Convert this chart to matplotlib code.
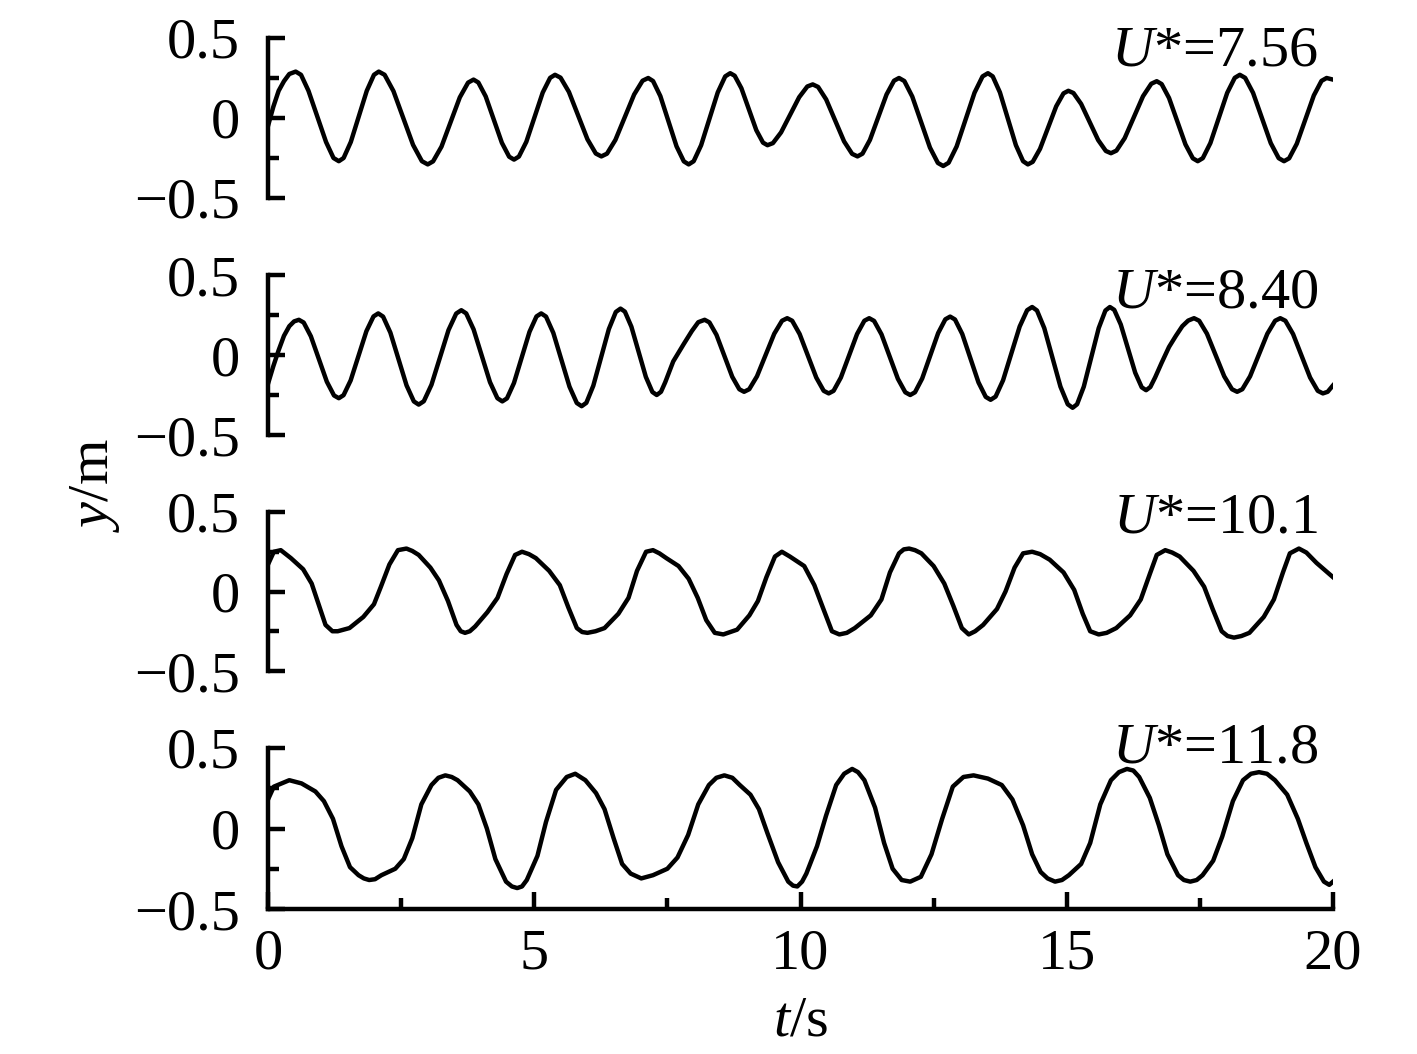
import matplotlib
matplotlib.use('Agg')
import matplotlib.pyplot as plt
from matplotlib.ticker import MultipleLocator, FuncFormatter

# values (t in s, y in m)
t1 = [0, 0.10, 0.20, 0.30, 0.40, 0.52,
      0.62, 0.76, 0.925, 1.09, 1.23, 1.33,
      1.42, 1.555, 1.705, 1.855, 1.99, 2.08,
      2.19, 2.356, 2.54, 2.724, 2.89, 3.0,
      3.10, 3.258, 3.43, 3.602, 3.757, 3.86,
      3.95, 4.088, 4.24, 4.392, 4.529, 4.62,
      4.712, 4.851, 5.005, 5.159, 5.298, 5.39,
      5.494, 5.651, 5.825, 5.999, 6.156, 6.26,
      6.366, 6.524, 6.70, 6.876, 7.034, 7.14,
      7.231, 7.368, 7.52, 7.672, 7.809, 7.90,
      7.994, 8.134, 8.29, 8.446, 8.586, 8.68,
      8.764, 8.89, 9.03, 9.17, 9.296, 9.38,
      9.482, 9.635, 9.805, 9.975, 10.128, 10.23,
      10.331, 10.482, 10.65, 10.818, 10.969, 11.07,
      11.164, 11.304, 11.46, 11.616, 11.756, 11.85,
      11.95, 12.099, 12.265, 12.431, 12.58, 12.68,
      12.781, 12.932, 13.10, 13.268, 13.419, 13.52,
      13.61, 13.745, 13.895, 14.045, 14.18, 14.27,
      14.361, 14.498, 14.65, 14.802, 14.939, 15.03,
      15.126, 15.27, 15.43, 15.59, 15.734, 15.83,
      15.933, 16.088, 16.26, 16.432, 16.587, 16.69,
      16.782, 16.921, 17.075, 17.229, 17.368, 17.46,
      17.555, 17.697, 17.855, 18.013, 18.155, 18.25,
      18.35, 18.499, 18.665, 18.831, 18.98, 19.08,
      19.176, 19.32, 19.48, 19.64, 19.784, 19.88,
      20.0]
y1 = [-0.05, 0.07, 0.17, 0.23, 0.275, 0.29,
      0.27, 0.17, 0.01, -0.15, -0.25, -0.27,
      -0.25, -0.15, 0.01, 0.17, 0.27, 0.29,
      0.27, 0.168, 0.0, -0.168, -0.27, -0.29,
      -0.271, -0.179, -0.025, 0.129, 0.221, 0.24,
      0.222, 0.135, -0.01, -0.155, -0.242, -0.26,
      -0.241, -0.149, 0.005, 0.159, 0.251, 0.27,
      0.252, 0.163, 0.015, -0.133, -0.222, -0.24,
      -0.223, -0.137, 0.005, 0.147, 0.233, 0.25,
      0.231, 0.137, -0.02, -0.177, -0.271, -0.29,
      -0.27, -0.17, -0.005, 0.16, 0.26, 0.28,
      0.264, 0.186, 0.055, -0.076, -0.154, -0.17,
      -0.157, -0.09, 0.02, 0.13, 0.197, 0.21,
      0.194, 0.116, -0.015, -0.146, -0.224, -0.24,
      -0.223, -0.137, 0.005, 0.147, 0.233, 0.25,
      0.231, 0.134, -0.025, -0.185, -0.281, -0.30,
      -0.28, -0.178, -0.01, 0.158, 0.26, 0.28,
      0.26, 0.16, -0.005, -0.17, -0.27, -0.29,
      -0.274, -0.193, -0.06, 0.073, 0.154, 0.17,
      0.156, 0.088, -0.025, -0.138, -0.206, -0.22,
      -0.204, -0.126, 0.005, 0.136, 0.214, 0.23,
      0.212, 0.125, -0.02, -0.165, -0.252, -0.27,
      -0.251, -0.157, 0.0, 0.157, 0.251, 0.27,
      0.251, 0.157, 0.0, -0.157, -0.251, -0.27,
      -0.252, -0.161, -0.01, 0.141, 0.232, 0.25,
      0.24]

t2 = [0, 0.10, 0.20, 0.30, 0.40, 0.49, 0.58,
      0.67, 0.805, 0.955, 1.105, 1.24, 1.33,
      1.419, 1.552, 1.70, 1.848, 1.981, 2.07,
      2.161, 2.298, 2.45, 2.602, 2.739, 2.83,
      2.926, 3.07, 3.23, 3.39, 3.534, 3.63,
      3.722, 3.861, 4.015, 4.169, 4.308, 4.40,
      4.488, 4.619, 4.765, 4.911, 5.042, 5.13,
      5.221, 5.358, 5.51, 5.662, 5.799, 5.89,
      5.978, 6.109, 6.255, 6.401, 6.532, 6.62,
      6.702, 6.824, 6.96, 7.096, 7.218, 7.30,
      7.38, 7.46, 7.61, 7.81, 7.96, 8.08, 8.20,
      8.289, 8.422, 8.57, 8.718, 8.851, 8.94,
      9.037, 9.183, 9.345, 9.507, 9.653, 9.75,
      9.844, 9.984, 10.14, 10.296, 10.436, 10.53,
      10.621, 10.758, 10.91, 11.062, 11.199, 11.29,
      11.382, 11.521, 11.675, 11.829, 11.968, 12.06,
      12.15, 12.285, 12.435, 12.585, 12.72, 12.81,
      12.901, 13.038, 13.19, 13.342, 13.479, 13.57,
      13.664, 13.804, 13.96, 14.116, 14.256, 14.35,
      14.441, 14.578, 14.73, 14.882, 15.019, 15.11,
      15.194, 15.32, 15.46, 15.60, 15.726, 15.81,
      15.892, 16.014, 16.15, 16.286, 16.408, 16.49,
      16.57, 16.66, 16.78, 16.92, 17.05, 17.17, 17.28, 17.39,
      17.487, 17.633, 17.795, 17.957, 18.103, 18.20,
      18.297, 18.443, 18.605, 18.767, 18.913, 19.01,
      19.106, 19.25, 19.41, 19.57, 19.714, 19.81,
      19.90, 20.0]
y2 = [-0.18, -0.07, 0.03, 0.12, 0.18, 0.21, 0.22,
      0.203, 0.117, -0.025, -0.167, -0.253, -0.27,
      -0.251, -0.159, -0.005, 0.149, 0.241, 0.26,
      0.24, 0.14, -0.025, -0.19, -0.29, -0.31,
      -0.289, -0.186, -0.015, 0.156, 0.259, 0.28,
      0.26, 0.16, -0.005, -0.17, -0.27, -0.29,
      -0.271, -0.175, -0.015, 0.145, 0.241, 0.26,
      0.24, 0.138, -0.03, -0.198, -0.30, -0.32,
      -0.299, -0.192, -0.015, 0.162, 0.269, 0.29,
      0.271, 0.177, 0.02, -0.137, -0.231, -0.25,
      -0.23, -0.17, -0.04, 0.07, 0.15, 0.205, 0.22,
      0.204, 0.126, -0.005, -0.136, -0.214, -0.23,
      -0.214, -0.133, 0.0, 0.133, 0.214, 0.23,
      0.214, 0.131, -0.005, -0.141, -0.224, -0.24,
      -0.224, -0.141, -0.005, 0.131, 0.214, 0.23,
      0.213, 0.129, -0.01, -0.149, -0.233, -0.25,
      -0.233, -0.147, -0.005, 0.137, 0.223, 0.24,
      0.222, 0.131, -0.02, -0.171, -0.262, -0.28,
      -0.26, -0.158, 0.01, 0.178, 0.28, 0.30,
      0.278, 0.168, -0.015, -0.198, -0.308, -0.33,
      -0.308, -0.198, -0.015, 0.168, 0.278, 0.30,
      0.282, 0.191, 0.04, -0.111, -0.202, -0.22,
      -0.20, -0.14, -0.05, 0.05, 0.12, 0.18, 0.215, 0.23,
      0.214, 0.133, 0.0, -0.133, -0.214, -0.23,
      -0.214, -0.133, 0.0, 0.133, 0.214, 0.23,
      0.214, 0.131, -0.005, -0.141, -0.224, -0.24,
      -0.23, -0.19]

t3 = [0, 0.11, 0.24, 0.43, 0.66, 0.82, 0.95, 1.08, 1.21, 1.31,
      1.53, 1.79, 1.99, 2.12, 2.28, 2.44, 2.60, 2.71, 2.83, 3.05, 3.21,
      3.38, 3.54, 3.62, 3.70, 3.79, 3.89, 4.12, 4.31, 4.48, 4.64, 4.77, 4.90, 5.03,
      5.28, 5.48, 5.64, 5.80, 5.90, 6.0, 6.15, 6.32, 6.58, 6.77, 6.93, 7.10,
      7.23, 7.35, 7.48, 7.71, 7.90, 8.07, 8.23, 8.39, 8.55, 8.81, 9.04,
      9.20, 9.36, 9.52, 9.65,
      9.80, 10.07, 10.26, 10.43, 10.59, 10.73, 10.87, 11.02, 11.32, 11.52, 11.68,
      11.85, 11.94, 12.04, 12.15, 12.27, 12.50, 12.70, 12.87, 13.03, 13.16, 13.28, 13.43, 13.69,
      13.85, 14.02, 14.18, 14.35, 14.50, 14.68, 14.94, 15.14, 15.30, 15.44, 15.60,
      15.75, 15.93, 16.19, 16.39, 16.56, 16.69, 16.85, 16.98, 17.12, 17.38, 17.58, 17.74,
      17.91, 18.02, 18.14, 18.28, 18.43, 18.70, 18.89, 19.06, 19.19, 19.36, 19.50, 19.69, 20.0]
y3 = [0.17, 0.25, 0.26, 0.21, 0.14, 0.05, -0.08, -0.21, -0.25, -0.25,
      -0.23, -0.16, -0.08, 0.03, 0.17, 0.26, 0.27, 0.255, 0.23, 0.15, 0.07,
      -0.06, -0.21, -0.25, -0.26, -0.25, -0.22, -0.13, -0.04, 0.11, 0.23, 0.25, 0.235, 0.21,
      0.13, 0.04, -0.10, -0.23, -0.255, -0.26, -0.25, -0.23, -0.14, -0.04, 0.13, 0.25,
      0.26, 0.24, 0.21, 0.16, 0.08, -0.04, -0.18, -0.26, -0.27, -0.24, -0.15,
      -0.06, 0.09, 0.22, 0.25,
      0.22, 0.16, 0.04, -0.11, -0.25, -0.27, -0.26, -0.23, -0.15, -0.05, 0.12,
      0.24, 0.265, 0.27, 0.26, 0.24, 0.16, 0.05, -0.09, -0.23, -0.27, -0.25, -0.21, -0.11,
      0.0, 0.15, 0.24, 0.25, 0.235, 0.20, 0.12, 0.01, -0.14, -0.25, -0.27,
      -0.26, -0.23, -0.15, -0.05, 0.11, 0.23, 0.26, 0.245, 0.22, 0.13, 0.03, -0.11,
      -0.25, -0.28, -0.29, -0.28, -0.26, -0.16, -0.05, 0.12, 0.24, 0.27, 0.245, 0.18, 0.09]

t4 = [0, 0.11, 0.40, 0.63, 0.89, 1.05, 1.22, 1.38, 1.54, 1.70,
      1.80, 1.90, 2.01, 2.13, 2.39, 2.55, 2.71, 2.88, 3.07, 3.20, 3.33, 3.45, 3.56, 3.79,
      3.95, 4.11, 4.27, 4.47, 4.58, 4.68, 4.77, 4.86, 5.06, 5.22, 5.41, 5.61,
      5.77, 5.96, 6.16, 6.32, 6.49, 6.65, 6.81, 7.01, 7.23, 7.50,
      7.69, 7.89, 8.08, 8.28, 8.42, 8.57, 8.72, 8.86, 9.06, 9.22, 9.38, 9.58,
      9.77, 9.86, 9.94, 10.03,
      10.11, 10.31, 10.48, 10.67, 10.82, 10.97, 11.08, 11.20, 11.40, 11.57, 11.73, 11.90,
      12.06, 12.26, 12.46, 12.66, 12.86, 13.06, 13.25, 13.52, 13.78, 13.98,
      14.18, 14.35, 14.51, 14.64, 14.78, 14.91, 15.04, 15.27, 15.44, 15.63, 15.83, 15.98, 16.13, 16.25,
      16.36, 16.56, 16.73, 16.89, 17.09, 17.20, 17.32, 17.44, 17.55, 17.75, 17.92, 18.12,
      18.31, 18.46, 18.61, 18.76, 18.91, 19.14, 19.34, 19.50, 19.67, 19.83, 19.93, 20.0]
y4 = [0.18, 0.26, 0.30, 0.28, 0.23, 0.17, 0.06, -0.11, -0.24, -0.29,
      -0.31, -0.32, -0.315, -0.29, -0.25, -0.19, -0.06, 0.15, 0.27, 0.315, 0.33, 0.32, 0.30, 0.23,
      0.15, 0.0, -0.19, -0.33, -0.36, -0.37, -0.36, -0.32, -0.17, 0.04, 0.24, 0.32,
      0.34, 0.30, 0.22, 0.12, -0.06, -0.22, -0.28, -0.31, -0.29, -0.25,
      -0.18, -0.04, 0.15, 0.27, 0.315, 0.33, 0.315, 0.27, 0.21, 0.12, -0.03, -0.21,
      -0.33, -0.355, -0.36, -0.33,
      -0.28, -0.11, 0.08, 0.27, 0.34, 0.37, 0.35, 0.30, 0.13, -0.09, -0.25, -0.32,
      -0.33, -0.30, -0.16, 0.06, 0.26, 0.32, 0.33, 0.31, 0.27, 0.18,
      0.02, -0.16, -0.27, -0.31, -0.33, -0.32, -0.29, -0.22, -0.09, 0.15, 0.30, 0.35, 0.37, 0.36,
      0.32, 0.19, 0.02, -0.16, -0.29, -0.32, -0.33, -0.32, -0.29, -0.20, -0.05, 0.17,
      0.30, 0.34, 0.35, 0.34, 0.30, 0.21, 0.06, -0.09, -0.24, -0.33, -0.35, -0.33]

etiquetas = ['7.56', '8.40', '10.1', '11.8']

plt.rcParams['font.family'] = ['Liberation Serif', 'DejaVu Serif']
plt.rcParams['mathtext.fontset'] = 'custom'
plt.rcParams['mathtext.rm'] = 'Liberation Serif'
plt.rcParams['mathtext.it'] = 'Liberation Serif:italic'

W, H = 1417, 1054
fs = 42
lw = 3.2

figure = plt.figure(figsize=(W / 100, H / 100), dpi=100)

# pixel bounds of each panel (top, bottom) in the reference
bordes = [(38, 198), (275, 435), (512, 671), (748, 909)]
texto_y = [0.831, 0.80, 0.874, 0.913]
series = [(t1, y1), (t2, y2), (t3, y3), (t4, y4)]


def fmt(v, pos):
    if abs(v) < 1e-9:
        return '0'
    return ('%.1f' % v).replace('-', '\u2212')


for i, ((arriba, abajo), (t, y)) in enumerate(zip(bordes, series)):
    axe = figure.add_axes([268 / W, 1 - abajo / H, 1065 / W, (abajo - arriba) / H])
    axe.plot(t, y, color='black', lw=lw, solid_joinstyle='round')
    axe.set_xlim(0, 20)
    axe.set_ylim(-0.5, 0.5)
    axe.spines['top'].set_visible(False)
    axe.spines['right'].set_visible(False)
    axe.spines['left'].set_linewidth(lw)
    axe.spines['bottom'].set_linewidth(lw)

    axe.yaxis.set_major_locator(MultipleLocator(0.5))
    axe.yaxis.set_minor_locator(MultipleLocator(0.25))
    axe.yaxis.set_major_formatter(FuncFormatter(fmt))
    axe.tick_params(axis='y', which='major', direction='in', length=12,
                    width=lw, pad=20, labelsize=fs)
    axe.tick_params(axis='y', which='minor', direction='in', length=8, width=lw)

    if i < 3:
        axe.spines['bottom'].set_visible(False)
        axe.tick_params(axis='x', which='both', bottom=False, labelbottom=False)
    else:
        axe.xaxis.set_major_locator(MultipleLocator(5))
        axe.xaxis.set_minor_locator(MultipleLocator(2.5))
        axe.tick_params(axis='x', which='major', direction='in', length=12,
                        width=lw, pad=14, labelsize=fs)
        axe.tick_params(axis='x', which='minor', direction='in', length=8, width=lw)

    axe.text(0.986, texto_y[i], r'$U$*=' + etiquetas[i], transform=axe.transAxes,
             ha='right', va='baseline', fontsize=fs)

figure.text(95 / W, 1 - 485 / H, r'$y$/m', rotation=90, ha='center', va='center', fontsize=fs)
figure.text(800.5 / W, 1 - 1022 / H, r'$t$/s', ha='center', va='center', fontsize=fs)

figure.savefig('out.png', dpi=100)
